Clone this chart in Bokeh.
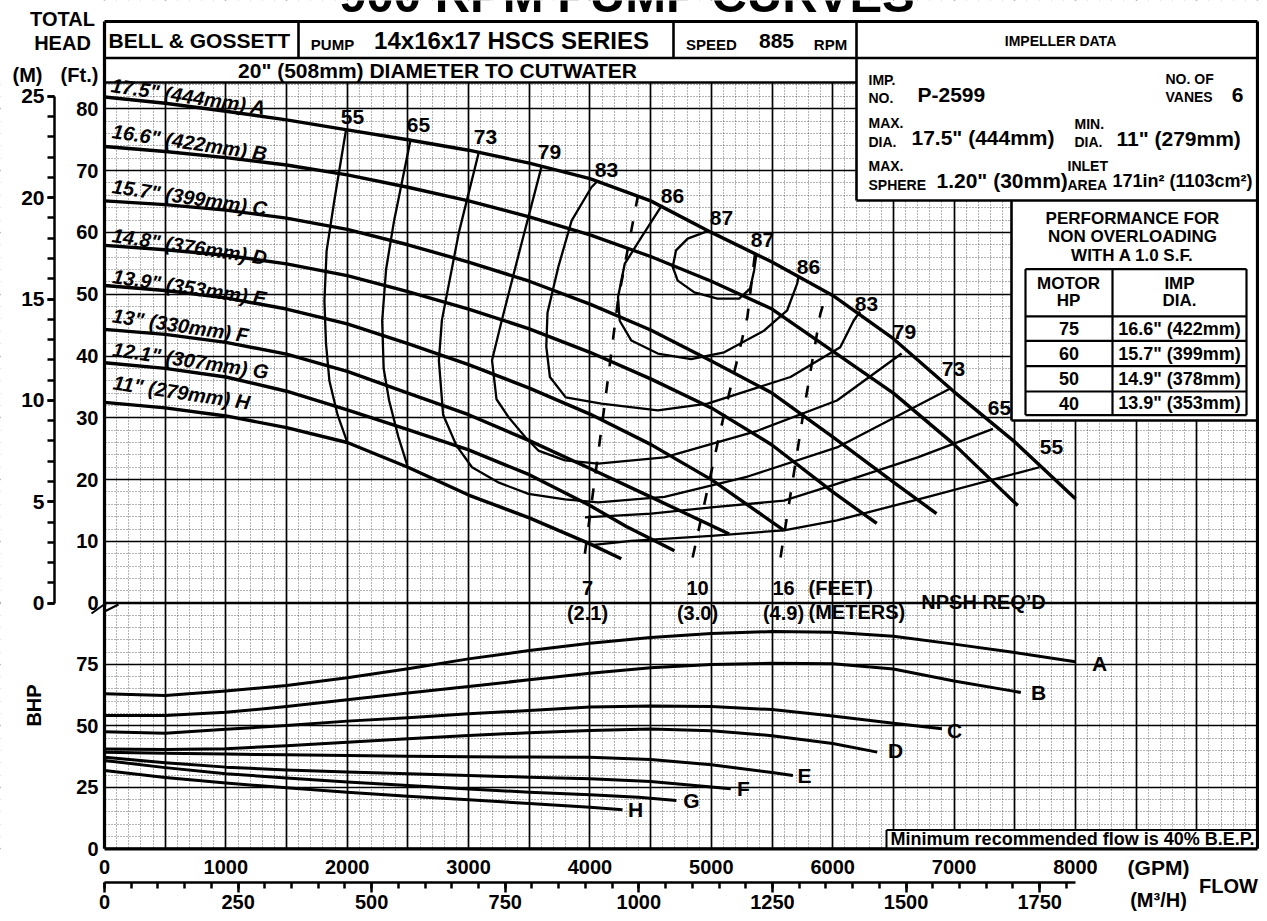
import math
from bokeh.plotting import figure
from bokeh.models import Range1d, LinearAxis, FixedTicker, Grid
from bokeh.core.properties import value
from bokeh.embed import file_html
from bokeh.resources import INLINE

FONT = "Liberation Sans"

# ---------------- data ----------------
# Head-capacity curves (flow GPM, head ft) for impellers A..H
A_flow = [0, 500, 1000, 1500, 2000, 2500, 3000, 3500, 4000, 4500, 5000, 5500, 6000, 6500, 7000, 7500, 8000]
A_head = [81.9, 80.9, 79.6, 78.2, 76.6, 75.0, 73.3, 71.2, 68.7, 65.1, 60.0, 55.2, 49.8, 42.8, 34.2, 26.1, 16.9]
B_flow = [0, 500, 1000, 1500, 2000, 2500, 3000, 3500, 4000, 4500, 5000, 5500, 6000, 6500, 7000, 7525]
B_head = [73.9, 73.1, 72.1, 70.9, 69.3, 67.3, 65.1, 62.5, 59.6, 56.1, 52.1, 47.6, 40.8, 34.0, 25.7, 15.8]
C_flow = [0, 500, 1000, 1500, 2000, 2500, 3000, 3500, 4000, 4500, 5000, 5500, 6000, 6500, 6855]
C_head = [65.1, 64.5, 63.6, 62.3, 60.5, 58.0, 55.2, 52.1, 48.4, 44.2, 39.2, 34.0, 26.9, 19.6, 14.5]
D_flow = [0, 500, 1000, 1500, 2000, 2500, 3000, 3500, 4000, 4500, 5000, 5500, 6000, 6363]
D_head = [57.9, 57.2, 56.3, 54.9, 53.0, 50.4, 47.6, 44.4, 40.6, 36.3, 31.6, 25.6, 18.0, 12.9]
E_flow = [0, 500, 1000, 1500, 2000, 2500, 3000, 3500, 4000, 4500, 5000, 5598]
E_head = [51.4, 50.6, 49.4, 47.6, 45.2, 42.0, 38.6, 34.8, 30.6, 25.7, 20.0, 11.8]
F_flow = [0, 500, 1000, 1500, 2000, 2500, 3000, 3500, 4000, 4500, 5147]
F_head = [44.3, 43.5, 42.2, 40.3, 37.5, 34.0, 30.5, 26.3, 21.8, 17.2, 11.2]
G_flow = [0, 500, 1000, 1500, 2000, 2500, 3000, 3500, 4000, 4300, 4696]
G_head = [38.9, 38.0, 36.6, 34.3, 31.3, 28.1, 24.8, 20.8, 15.8, 12.4, 8.5]
H_flow = [0, 500, 1000, 1500, 2000, 2500, 3000, 3500, 4000, 4258]
H_head = [32.5, 31.6, 30.3, 28.4, 26.0, 22.0, 17.5, 13.8, 9.6, 7.2]

impeller_letters = ["A", "B", "C", "D", "E", "F", "G", "H"]
impeller_labels = ['17.5" (444mm) A', '16.6" (422mm) B', '15.7" (399mm) C', '14.8" (376mm) D',
                   '13.9" (353mm) E', '13" (330mm) F', '12.1" (307mm) G', '11" (279mm) H']

# Efficiency contours (%), flow GPM / head ft
eff55_L_flow = [1990, 1894, 1830, 1812, 1825, 1853, 1920, 2003]
eff55_L_head = [76.6, 65.2, 57.0, 48.9, 42.0, 36.0, 30.5, 25.9]
eff55_R_flow = [4013, 4341, 5000, 5598, 6035, 6800, 7703]
eff55_R_head = [9.4, 10.1, 10.9, 11.8, 13.4, 17.3, 22.0]
eff65_L_flow = [2523, 2386, 2320, 2288, 2300, 2345, 2420, 2495]
eff65_L_head = [75.1, 61.9, 54.0, 45.7, 38.0, 32.8, 27.0, 22.3]
eff65_R_flow = [3958, 4505, 5000, 5598, 6035, 6700, 7320]
eff65_R_head = [13.9, 14.5, 15.5, 16.6, 19.3, 23.6, 28.2]
eff73_flow = [3083, 2920, 2780, 2755, 2790, 2900, 3028, 3250, 3493, 3794, 4067, 4614, 5300, 6035, 6965]
eff73_head = [72.9, 60.0, 45.8, 39.3, 30.5, 25.5, 22.0, 19.5, 17.7, 16.8, 16.3, 17.2, 20.5, 25.2, 34.7]
eff79_flow = [3603, 3420, 3270, 3193, 3230, 3329, 3466, 3575, 3794, 4067, 4614, 5379, 6035, 6568]
eff79_head = [70.8, 57.0, 45.5, 39.3, 33.0, 30.1, 26.9, 24.7, 23.1, 22.6, 23.6, 27.9, 32.8, 40.4]
eff83_flow = [4067, 4012, 3849, 3739, 3650, 3640, 3670, 3800, 4094, 4559, 4969, 5652, 6062, 6172, 6225]
eff83_head = [68.4, 67.3, 61.9, 54.4, 47.0, 41.5, 36.6, 33.3, 32.3, 31.2, 32.3, 36.6, 41.4, 45.7, 47.2]
eff86_flow = [4587, 4423, 4286, 4231, 4245, 4341, 4559, 4833, 5106, 5434, 5625, 5707, 5720]
eff86_head = [64.2, 59.2, 54.9, 49.5, 45.7, 42.5, 40.4, 39.5, 40.6, 44.1, 47.4, 51.7, 53.0]
eff87_flow = [4969, 4805, 4709, 4682, 4723, 4860, 5051, 5229, 5319, 5352, 5371]
eff87_head = [60.2, 59.0, 57.1, 54.4, 52.2, 50.3, 49.3, 49.3, 50.9, 53.8, 56.4]

# NPSH required lines (7, 10, 16 ft)
npsh7_flow = [3958, 4122, 4231, 4395]
npsh7_head = [8.0, 32.3, 49.0, 65.9]
npsh10_flow = [4846, 5075, 5297, 5363]
npsh10_head = [7.4, 28.0, 46.3, 57.1]
npsh16_flow = [5570, 5762, 5898, 5953]
npsh16_head = [7.4, 31.2, 46.8, 50.4]

# Brake horsepower curves (flow GPM, BHP)
A_bhp_flow = [0, 500, 1000, 1500, 2000, 2500, 3000, 3500, 4000, 4500, 5000, 5500, 6000, 6500, 7000, 7500, 8000]
A_bhp = [63.0, 62.3, 64.1, 66.4, 69.5, 73.2, 77.2, 80.6, 83.6, 85.9, 87.5, 88.3, 88.0, 86.4, 83.2, 79.8, 76.0]
B_bhp_flow = [0, 500, 1000, 1500, 2000, 2500, 3000, 3500, 4000, 4500, 5000, 5500, 6000, 6500, 7000, 7500, 7550]
B_bhp = [54.2, 54.2, 55.5, 57.8, 60.6, 63.3, 66.0, 68.7, 71.4, 73.6, 74.9, 75.4, 75.2, 73.1, 68.2, 64.0, 63.5]
C_bhp_flow = [0, 500, 1000, 1500, 2000, 2500, 3000, 3500, 4000, 4500, 5000, 5500, 6000, 6500, 6900]
C_bhp = [47.6, 47.0, 48.6, 50.1, 51.9, 53.3, 54.9, 56.2, 57.6, 58.0, 57.8, 56.6, 54.0, 51.0, 48.8]
D_bhp_flow = [0, 500, 1000, 1500, 2000, 2500, 3000, 3500, 4000, 4500, 5000, 5500, 6000, 6367]
D_bhp = [40.6, 40.4, 40.7, 41.9, 43.3, 44.7, 46.1, 47.2, 48.1, 48.7, 48.0, 46.0, 42.8, 39.3]
E_bhp_flow = [0, 500, 1000, 1500, 2000, 2500, 3000, 3500, 4000, 4500, 5000, 5500, 5672]
E_bhp = [39.2, 38.8, 38.5, 38.2, 37.9, 37.6, 37.4, 37.3, 37.2, 36.3, 34.2, 31.0, 29.8]
F_bhp_flow = [0, 500, 1000, 1500, 2000, 2500, 3000, 3500, 4000, 4500, 5160]
F_bhp = [37.2, 35.0, 33.2, 32.0, 31.2, 30.5, 29.8, 29.1, 28.5, 27.4, 24.4]
G_bhp_flow = [0, 500, 1000, 1500, 2000, 2500, 3000, 3500, 4000, 4400, 4712]
G_bhp = [35.9, 33.0, 30.5, 28.8, 27.2, 25.7, 24.3, 23.0, 22.0, 21.0, 19.6]
H_bhp_flow = [0, 500, 1000, 1500, 2000, 2500, 3000, 3500, 4000, 4268]
H_bhp = [31.8, 29.0, 26.7, 24.8, 23.0, 21.4, 19.9, 18.4, 16.9, 15.9]

# Axis tick values
gpm_ticks = [0, 1000, 2000, 3000, 4000, 5000, 6000, 7000, 8000]
m3h_ticks = [0, 250, 500, 750, 1000, 1250, 1500, 1750]
ft_ticks = [0, 10, 20, 30, 40, 50, 60, 70, 80]
m_ticks = [0, 5, 10, 15, 20, 25]
bhp_ticks = [0, 25, 50, 75]

# Performance table
motor_hp = ["75", "60", "50", "40"]
imp_dia = ['16.6" (422mm)', '15.7" (399mm)', '14.9" (378mm)', '13.9" (353mm)']

# ---------------- layout (canvas pixels) ----------------
W, H = 1259, 913
GPM_MAX = 9500
X0 = 104.0                       # canvas x of 0 GPM
KX = (1257.0 - X0) / GPM_MAX     # px per GPM
Y0H, KH = 602.7, 6.18            # canvas y of 0 ft, px per ft
Y0B, KB = 848.3, 2.46            # canvas y of 0 BHP, px per BHP

def gx(px):
    return (px - X0) / KX

def fy(py):
    return (Y0H - py) / KH

def by(py):
    return (Y0B - py) / KB

x_range = Range1d(gx(0), gx(W))
y_range = Range1d(fy(H), fy(0))
bhp_range = Range1d(by(H), by(0))

def head_of_bhp(b):
    return y_range.start + (b - bhp_range.start) * (y_range.end - y_range.start) / (bhp_range.end - bhp_range.start)

p = figure(width=W, height=H, x_range=x_range, y_range=y_range,
           output_backend="svg", toolbar_location=None,
           x_axis_location=None, y_axis_location=None, title=None,
           min_border=0, min_border_left=0, min_border_right=0,
           min_border_top=0, min_border_bottom=0,
           background_fill_color="white", border_fill_color="white",
           outline_line_color=None)
p.center = [r for r in p.center if not isinstance(r, Grid)]
p.extra_y_ranges = {"bhp": bhp_range,
                    "m": Range1d(y_range.start * 0.3048, y_range.end * 0.3048)}
p.extra_x_ranges = {"m3h": Range1d(x_range.start * 0.2271247, x_range.end * 0.2271247)}

# ---------------- grids ----------------
def style_grid(g):
    g.grid_line_color = "black"
    g.grid_line_width = 1.7
    g.minor_grid_line_color = "black"
    g.minor_grid_line_alpha = 0.6
    g.minor_grid_line_width = 1
    g.minor_grid_line_dash = "1 2"
    return g

p.add_layout(style_grid(Grid(dimension=0, ticker=FixedTicker(
    ticks=list(range(0, GPM_MAX + 1, 500)), minor_ticks=list(range(0, GPM_MAX + 1, 100))))))
p.add_layout(style_grid(Grid(dimension=1, ticker=FixedTicker(
    ticks=ft_ticks, minor_ticks=list(range(0, 85, 2))))))
p.add_layout(style_grid(Grid(dimension=1, y_range_name="bhp", ticker=FixedTicker(
    ticks=[0, 25, 50, 75, 100], minor_ticks=list(range(0, 101, 5))))))

# ---------------- white boxes ----------------
hdr_top, hdr_row, band_bot, imp_bot, tab_bot = fy(21), fy(57.5), fy(82), fy(200), fy(420)
x_div1, x_div2, x_imp, x_tab = gx(298), gx(673), gx(856), gx(1011)
bot = head_of_bhp(0)
xs, xe, ys, ye = x_range.start, x_range.end, y_range.start, y_range.end
wq = dict(fill_color="white", line_color=None)
p.quad(left=[xs], right=[xe], bottom=[band_bot], top=[ye], **wq)
p.quad(left=[xs], right=[0], bottom=[ys], top=[ye], **wq)
p.quad(left=[GPM_MAX], right=[xe], bottom=[ys], top=[ye], **wq)
p.quad(left=[xs], right=[xe], bottom=[ys], top=[bot], **wq)
p.quad(left=[x_imp], right=[GPM_MAX], bottom=[imp_bot], top=[hdr_top], **wq)
p.quad(left=[x_tab], right=[GPM_MAX], bottom=[tab_bot], top=[imp_bot], **wq)
mf_left, mf_top = gx(886), head_of_bhp(by(829.5))
p.quad(left=[mf_left], right=[GPM_MAX], bottom=[bot], top=[mf_top], **wq)

# ---------------- curves ----------------
heads = [(A_flow, A_head), (B_flow, B_head), (C_flow, C_head), (D_flow, D_head),
         (E_flow, E_head), (F_flow, F_head), (G_flow, G_head), (H_flow, H_head)]
for fl, hd in heads:
    p.line(fl, hd, line_color="black", line_width=3.4, line_join="round")

effs = [(eff55_L_flow, eff55_L_head), (eff55_R_flow, eff55_R_head),
        (eff65_L_flow, eff65_L_head), (eff65_R_flow, eff65_R_head),
        (eff73_flow, eff73_head), (eff79_flow, eff79_head), (eff83_flow, eff83_head),
        (eff86_flow, eff86_head), (eff87_flow, eff87_head)]
for fl, hd in effs:
    p.line(fl, hd, line_color="black", line_width=2.3, line_join="round")

for fl, hd in [(npsh7_flow, npsh7_head), (npsh10_flow, npsh10_head), (npsh16_flow, npsh16_head)]:
    p.line(fl, hd, line_color="black", line_width=2.6, line_dash="12 15")

bhps = [(A_bhp_flow, A_bhp), (B_bhp_flow, B_bhp), (C_bhp_flow, C_bhp), (D_bhp_flow, D_bhp),
        (E_bhp_flow, E_bhp), (F_bhp_flow, F_bhp), (G_bhp_flow, G_bhp), (H_bhp_flow, H_bhp)]
for fl, bh in bhps:
    p.line(fl, bh, y_range_name="bhp", line_color="black", line_width=3.0, line_join="round")

# ---------------- borders and box lines ----------------
p.multi_line(xs=[[0, GPM_MAX], [0, 0], [GPM_MAX, GPM_MAX], [0, GPM_MAX]],
             ys=[[hdr_top, hdr_top], [hdr_top, bot], [hdr_top, bot], [bot, bot]],
             line_color="black", line_width=3.2)
p.multi_line(xs=[[0, GPM_MAX], [0, x_imp], [x_imp, GPM_MAX], [x_div1, x_div1], [x_div2, x_div2],
                 [x_imp, x_imp], [x_tab, x_tab], [x_tab, GPM_MAX]],
             ys=[[hdr_row, hdr_row], [band_bot, band_bot], [imp_bot, imp_bot], [hdr_top, hdr_row],
                 [hdr_top, hdr_row], [hdr_top, imp_bot], [imp_bot, tab_bot], [tab_bot, tab_bot]],
             line_color="black", line_width=2.6)
tl, tm, tr = gx(1025), gx(1112), gx(1246)
row_y = [fy(v) for v in (268.6, 315.8, 340.4, 365.7, 391.0, 414.6)]
tab_xs = [[tl, tr] for _ in row_y] + [[tl, tl], [tm, tm], [tr, tr]]
tab_ys = [[r, r] for r in row_y] + [[row_y[0], row_y[-1]]] * 3
p.multi_line(xs=tab_xs, ys=tab_ys, line_color="black", line_width=2.2)
p.multi_line(xs=[[mf_left, mf_left], [mf_left, GPM_MAX]], ys=[[bot, mf_top], [mf_top, mf_top]],
             line_color="black", line_width=2.0)
# axis break mark between the head and BHP scales
p.line([gx(91), gx(105), gx(104), gx(118)], [fy(613), fy(603), fy(611), fy(604)],
       line_color="black", line_width=2.0)

# ---------------- texts ----------------
def ptxt(s, px, py, size, align="center", baseline="middle", angle=0.0, style="bold"):
    p.text(x=[gx(px)], y=[fy(py)], text=[s], text_font=value(FONT),
           text_font_size=f"{size}px", text_font_style=style, text_align=align,
           text_baseline=baseline, angle=angle, text_color="black")

# title: only its lower part is visible at the top edge, as in the reference
ptxt("900 RPM PUMP CURVES", 627, -6, 49)
ptxt("BELL & GOSSETT", 199, 40, 21)
ptxt("PUMP", 332, 44, 15)
ptxt("14x16x17 HSCS SERIES", 511, 40, 24)
ptxt("SPEED", 711, 44, 15)
ptxt("885", 776, 40, 21)
ptxt("RPM", 830, 44, 15)
ptxt('20" (508mm) DIAMETER TO CUTWATER', 437, 70, 21)
ptxt("IMPELLER DATA", 1060, 40, 14)
for s, px, py, sz in [("IMP.", 868, 79, 14), ("NO.", 868, 97, 14), ("P-2599", 917, 94, 21),
                      ("NO. OF", 1165, 78, 14), ("VANES", 1165, 96, 14),
                      ("MAX.", 868, 122, 14), ("DIA.", 868, 141, 14), ('17.5" (444mm)', 911, 137, 21),
                      ("MIN.", 1074, 123, 14), ("DIA.", 1074, 141, 14), ('11" (279mm)', 1116, 138, 21),
                      ("MAX.", 868, 165, 14), ("SPHERE", 868, 184, 14), ('1.20" (30mm)', 936, 180, 21),
                      ("INLET", 1067, 165, 14), ("AREA", 1067, 184, 14),
                      ("171in\u00b2 (1103cm\u00b2)", 1112, 180, 18)]:
    ptxt(s, px, py, sz, align="left")
ptxt("6", 1237, 94, 21)
ptxt("PERFORMANCE FOR", 1132, 218, 17)
ptxt("NON OVERLOADING", 1132, 236, 17)
ptxt("WITH A 1.0 S.F.", 1132, 254.5, 17)
ptxt("MOTOR", 1068, 283, 17)
ptxt("HP", 1068, 300, 17)
ptxt("IMP", 1179, 283, 17)
ptxt("DIA.", 1179, 300, 17)
for i, (hp, dia) in enumerate(zip(motor_hp, imp_dia)):
    yc = (row_y[i + 1] + row_y[i + 2]) / 2
    p.text(x=[(tl + tm) / 2], y=[yc], text=[hp], text_font=value(FONT), text_font_size="18px",
           text_font_style="bold", text_align="center", text_baseline="middle")
    p.text(x=[(tm + tr) / 2], y=[yc], text=[dia], text_font=value(FONT), text_font_size="18px",
           text_font_style="bold", text_align="center", text_baseline="middle")

label_pos = [(188, 96), (189, 142), (189, 197), (189, 246), (189, 287), (180, 325), (190, 360), (181, 392)]
for s, (px, py) in zip(impeller_labels, label_pos):
    ptxt(s, px, py, 20, angle=-0.147, style="bold italic")

eff_labels = [("55", 352, 116), ("65", 418, 124), ("73", 485, 136), ("79", 549, 151), ("83", 606, 169),
              ("86", 672, 195), ("87", 721, 217), ("87", 762, 239), ("86", 808, 266), ("83", 866, 303),
              ("79", 904, 331), ("73", 953, 368), ("65", 999, 407), ("55", 1051, 446)]
for s, px, py in eff_labels:
    ptxt(s, px, py, 21)

for s, px in [("7", 587), ("10", 697), ("16", 783)]:
    ptxt(s, px, 587, 20)
for s, px in [("(2.1)", 587), ("(3.0)", 697), ("(4.9)", 783)]:
    ptxt(s, px, 612, 20)
ptxt("(FEET)", 808, 587, 20, align="left")
ptxt("(METERS)", 808, 611, 20, align="left")
ptxt("NPSH REQ\u2019D", 983, 601, 20)

bhp_letter_pos = [(1099, 663), (1038, 692), (954, 730), (895, 750), (804, 775), (743, 788), (691, 800), (635, 809)]
for s, (px, py) in zip(impeller_letters, bhp_letter_pos):
    ptxt(s, px, py, 21)

ptxt("Minimum recommended flow is 40% B.E.P.", 1072, 838, 18)

ptxt("TOTAL", 62, 18, 20)
ptxt("HEAD", 62, 42, 20)
ptxt("(M)", 27, 74, 20)
ptxt("(Ft.)", 79, 74, 20)
ptxt("BHP", 33, 705, 20, angle=math.pi / 2)
ptxt("(GPM)", 1158, 867, 21)
ptxt("FLOW", 1228, 885, 20)
ptxt("(M\u00b3/H)", 1158, 899, 20)

# ---------------- axes (fixed inside the full-canvas frame) ----------------
def font_axis(ax, size="20px"):
    ax.major_label_text_font = FONT
    ax.major_label_text_font_size = size
    ax.major_label_text_font_style = "bold"
    ax.major_label_text_color = "black"
    return ax

ft_all = [float(t) for t in ft_ticks] + [round(head_of_bhp(b), 4) for b in bhp_ticks]
overrides = {float(t): str(t) for t in ft_ticks}
overrides.update({round(head_of_bhp(b), 4): str(b) for b in bhp_ticks})
ft_axis = LinearAxis(ticker=FixedTicker(ticks=ft_all), major_label_overrides=overrides,
                     fixed_location=gx(100), axis_line_color=None,
                     major_tick_line_color=None, minor_tick_line_color=None,
                     major_tick_out=0, major_tick_in=0, minor_tick_out=0, minor_tick_in=0,
                     major_label_standoff=2)
p.add_layout(font_axis(ft_axis), "left")

m_axis = LinearAxis(y_range_name="m", ticker=FixedTicker(ticks=m_ticks, minor_ticks=list(range(0, 26))),
                    fixed_location=gx(54), bounds=(0, 25), axis_line_width=2.5, axis_line_color="black",
                    major_tick_out=7, major_tick_in=0, minor_tick_out=7, minor_tick_in=0,
                    major_tick_line_width=2.5, minor_tick_line_width=2.5,
                    major_tick_line_color="black", minor_tick_line_color="black",
                    major_label_standoff=3)
p.add_layout(font_axis(m_axis, "21px"), "left")

gpm_axis = LinearAxis(ticker=FixedTicker(ticks=gpm_ticks), fixed_location=fy(852),
                      axis_line_color=None, major_tick_line_color=None, minor_tick_line_color=None,
                      major_tick_out=0, major_tick_in=0, minor_tick_out=0, minor_tick_in=0,
                      major_label_standoff=7)
p.add_layout(font_axis(gpm_axis), "below")

m3_axis = LinearAxis(x_range_name="m3h",
                     ticker=FixedTicker(ticks=m3h_ticks, minor_ticks=list(range(0, 1801, 50))),
                     fixed_location=fy(882), bounds=(0, 1817), axis_line_width=2.5,
                     axis_line_color="black",
                     major_tick_out=10, major_tick_in=0, minor_tick_out=6, minor_tick_in=0,
                     major_tick_line_width=2.5, minor_tick_line_width=2.5,
                     major_tick_line_color="black", minor_tick_line_color="black",
                     major_label_standoff=2)
p.add_layout(font_axis(m3_axis), "below")

open("out.html", "w").write(file_html(p, INLINE))
